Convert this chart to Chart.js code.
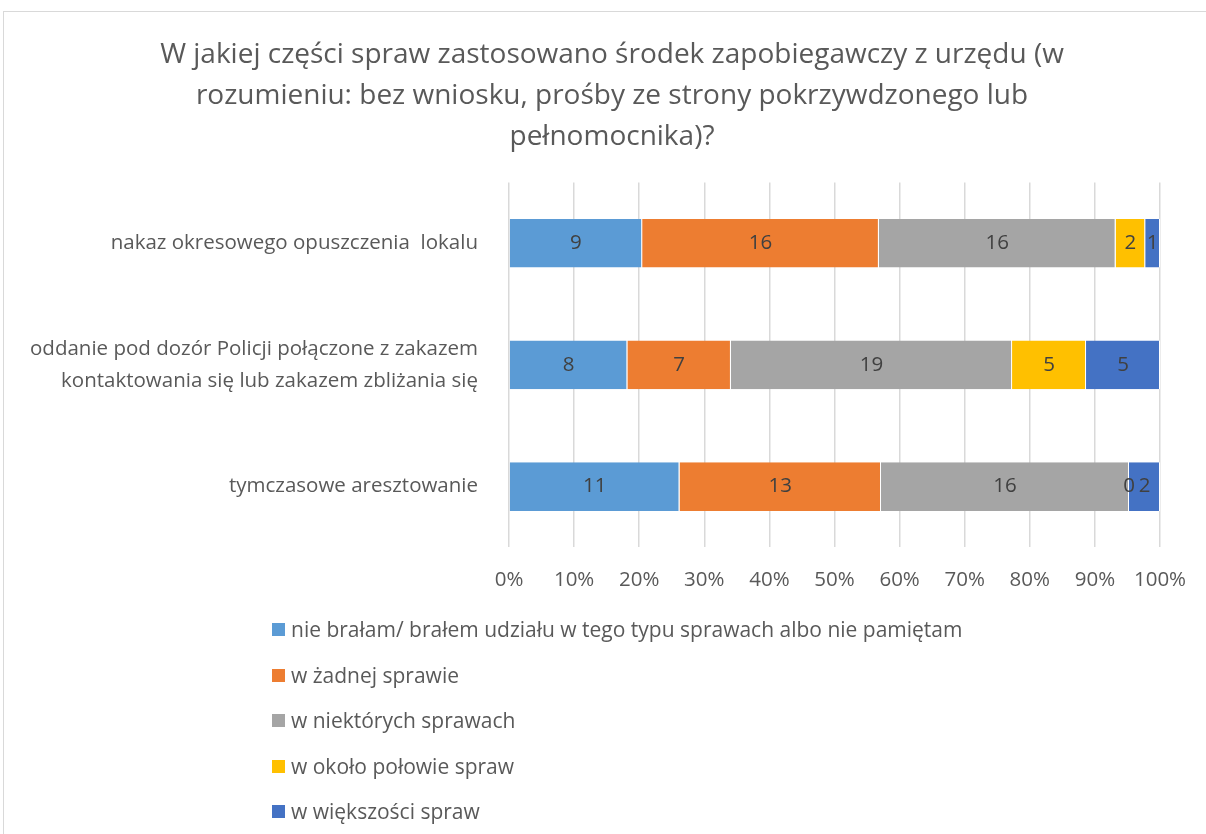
<!DOCTYPE html>
<html>
<head>
<meta charset="utf-8">
<script src="https://cdn.jsdelivr.net/npm/chart.js@4.4.1/dist/chart.umd.min.js"></script>
<style>
  body { margin: 0; background: #fff; font-family: "Open Sans", sans-serif; overflow: hidden; }
  #frame { position: absolute; left: 3px; top: 11px; width: 1230px; height: 850px; border: 1px solid #d9d9d9; }
  #wrap { position: absolute; left: 0; top: 0; width: 1206px; height: 834px; overflow: hidden; }
  #legend { position: absolute; left: 272px; top: 614px; margin: 0; padding: 0; list-style: none; }
  #legend li { height: 45.5px; font-size: 21px; line-height: 30px; color: #595959; display: flex; align-items: flex-start; }
  #legend span.box { display: inline-block; width: 13px; height: 13px; margin: 9px 6px 0 0; }
</style>
</head>
<body>
<div id="frame"></div>
<div id="wrap"><canvas id="chart"></canvas></div>
<ul id="legend"></ul>
<script>
// kategorie (oś Y)
const categories = [
    'nakaz okresowego opuszczenia  lokalu',
    ['oddanie pod dozór Policji połączone z zakazem', 'kontaktowania się lub zakazem zbliżania się'],
    'tymczasowe aresztowanie'
];
const seriesNames = [
    'nie brałam/ brałem udziału w tego typu sprawach albo nie pamiętam',
    'w żadnej sprawie',
    'w niektórych sprawach',
    'w około połowie spraw',
    'w większości spraw'
];
const notTakenPart = [9, 8, 11];
const noCase = [16, 7, 13];
const someCases = [16, 19, 16];
const halfCases = [2, 5, 0];
const mostCases = [1, 5, 2];
const xTicks = [0, 10, 20, 30, 40, 50, 60, 70, 80, 90, 100];
const colors = ['#5B9BD5', '#ED7D31', '#A5A5A5', '#FFC000', '#4472C4'];

const rawSeries = [notTakenPart, noCase, someCases, halfCases, mostCases];
const totals = categories.map((c, i) => rawSeries.reduce((s, arr) => s + arr[i], 0));

const FONT = '"Open Sans", sans-serif';

// płótno szersze niż okno - tytuł wyśrodkowany jak w oryginale (wykres wychodzi poza kadr)
const canvas = document.getElementById('chart');
canvas.width = 1224;
canvas.height = 834;
const ctx = canvas.getContext('2d');

// Plugin: etykiety wartości na środku segmentów
const valueLabels = {
    id: 'valueLabels',
    afterDatasetsDraw: (chart) => {
        const c = chart.ctx;
        c.save();
        c.font = '20.5px ' + FONT;
        c.fillStyle = '#404040';
        c.textAlign = 'center';
        c.textBaseline = 'middle';
        chart.data.datasets.forEach((ds, di) => {
            const meta = chart.getDatasetMeta(di);
            meta.data.forEach((bar, i) => {
                const x = (bar.x + bar.base) / 2;
                c.fillText(String(ds.raw[i]), x, bar.y);
            });
        });
        c.restore();
    }
};

const chart = new Chart(ctx, {
    type: 'bar',
    data: {
        labels: categories,
        datasets: rawSeries.map((arr, k) => ({
            label: seriesNames[k],
            raw: arr,
            data: arr.map((v, i) => v / totals[i] * 100),
            backgroundColor: colors[k],
            borderColor: '#ffffff',
            borderWidth: { left: 0, right: 1, top: 0, bottom: 0 },
            borderSkipped: false,
            barPercentage: 0.4,
            categoryPercentage: 1
        }))
    },
    options: {
        indexAxis: 'y',
        responsive: false,
        animation: false,
        layout: {
            padding: { left: 0, right: 0, top: 0, bottom: 222 }
        },
        plugins: {
            legend: { display: false },
            tooltip: { enabled: false },
            title: {
                display: true,
                text: [
                    'W jakiej części spraw zastosowano środek zapobiegawczy z urzędu (w',
                    'rozumieniu: bez wniosku, prośby ze strony pokrzywdzonego lub',
                    'pełnomocnika)?'
                ],
                color: '#595959',
                font: { family: FONT, size: 28, weight: 'normal', lineHeight: 1.464 },
                padding: { top: 34.5, bottom: 25 }
            }
        },
        scales: {
            x: {
                stacked: true,
                min: 0,
                max: 100,
                afterBuildTicks: (axis) => { axis.ticks = xTicks.map(v => ({ value: v })); },
                ticks: {
                    callback: (v) => v + '%',
                    color: '#595959',
                    padding: 20,
                    font: { family: FONT, size: 20.5 }
                },
                grid: { color: '#d9d9d9', lineWidth: 1.5, drawTicks: false },
                border: { display: false }
            },
            y: {
                stacked: true,
                afterFit: (axis) => { axis.width = 509; },
                ticks: {
                    color: '#595959',
                    padding: 31,
                    font: { family: FONT, size: 20.5, lineHeight: 1.56 }
                },
                grid: { display: false, drawTicks: false },
                border: { display: false }
            },
            // pusta oś po prawej - tylko rezerwuje miejsce
            yRight: {
                axis: 'y',
                type: 'category',
                position: 'right',
                afterFit: (axis) => { axis.width = 64; },
                ticks: { display: false },
                grid: { display: false, drawTicks: false },
                border: { display: false }
            }
        }
    },
    plugins: [valueLabels]
});

// Legenda HTML (jedna pozycja w wierszu)
const legendEl = document.getElementById('legend');
chart.data.datasets.forEach((ds) => {
    const li = document.createElement('li');
    const box = document.createElement('span');
    box.className = 'box';
    box.style.background = ds.backgroundColor;
    li.appendChild(box);
    li.appendChild(document.createTextNode(ds.label));
    legendEl.appendChild(li);
});
</script>
</body>
</html>
